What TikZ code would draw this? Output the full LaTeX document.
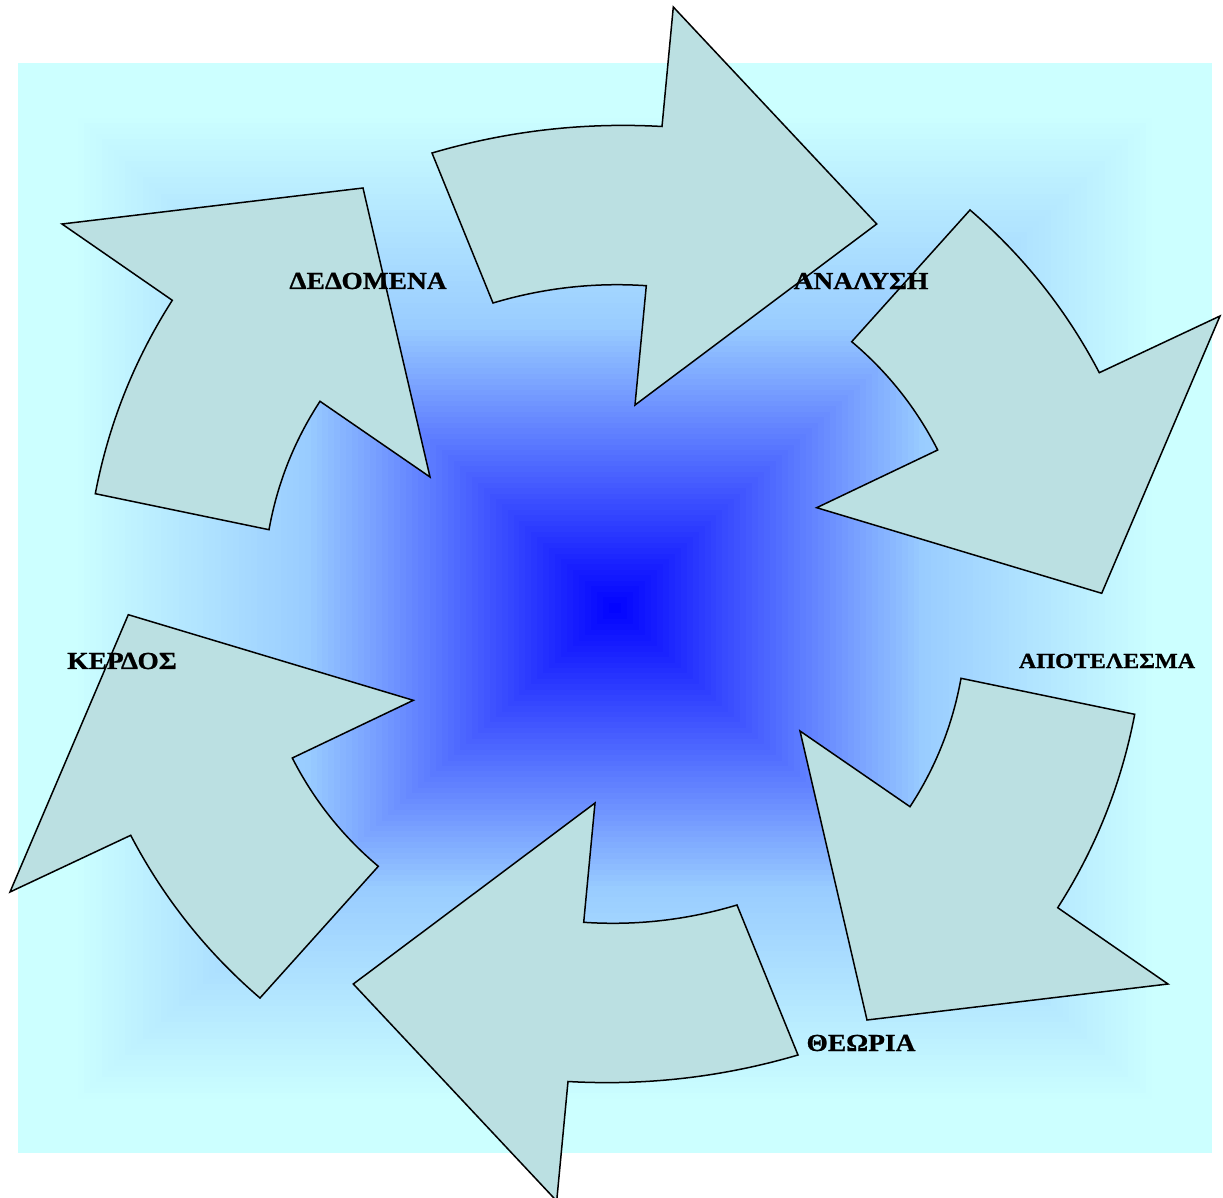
\documentclass[tikz,border=0pt]{standalone}
\usepackage{fontspec}
\setmainfont{Liberation Serif}
\newfontfamily\lblfont[FakeStretch=1.12, FakeBold=0.8, UprightFont=* Bold]{Liberation Serif}
\definecolor{bgA}{RGB}{0,0,255}
\definecolor{bgB}{RGB}{153,204,255}
\definecolor{bgC}{RGB}{204,255,255}
\definecolor{arrowfill}{RGB}{187,224,226}
\tikzset{
  cyc/.style={fill=arrowfill, draw=black, line width=1.5pt, line join=miter},
  lbl/.style={font=\lblfont\fontsize{24.5}{24.5}\selectfont, inner sep=0pt, text=black},
  lblsmall/.style={lbl, font=\lblfont\fontsize{21.5}{21.5}\selectfont}
}
\begin{document}
\begin{tikzpicture}[x=1pt,y=-1pt]
\useasboundingbox (0,0) rectangle (1223,1198);
% rectangular gradient background
\foreach \i in {100,99,...,1}{
  \pgfmathsetmacro\myt{\i/100}
  \ifnum\i>91 \def\mycol{bgC}\else
    \ifnum\i>52 \pgfmathsetmacro\myp{(\i-52)/39*100}\edef\mycol{bgC!\myp!bgB}\else
      \pgfmathsetmacro\myp{\i/52*100}\edef\mycol{bgB!\myp!bgA}\fi\fi
  \fill[fill=\mycol] ({615-597*\myt},{608-545*\myt}) rectangle ({615+597*\myt},{608+545*\myt});
}
% six circular arrows (three, and the same three turned half round)
\foreach \r in {0,180}{
\begin{scope}[rotate around={\r:(615,604)}]
\draw[cyc] (432,153) .. controls (507.2,130.9) and (583.8,122.1) .. (662,126.5)
  -- (673.3,7) -- (876.7,224) -- (635,405) -- (646.3,285.7)
  .. controls (594.2,282.2) and (543.1,288) .. (493,303) -- cycle;
\draw[cyc] (970,210) .. controls (1023.5,255.9) and (1066.6,310.2) .. (1099.3,372.7)
  -- (1220,316) -- (1101.7,593.3) -- (816.7,507.7) -- (937.7,450)
  .. controls (916.3,408.1) and (887.7,372) .. (851.7,341.7) -- cycle;
\draw[cyc] (1134.7,714.3) .. controls (1121.4,783.7) and (1095.8,848.2) .. (1057.7,907.7)
  -- (1168,984) -- (867,1020) -- (800,731) -- (910,806.7)
  .. controls (935.7,767.4) and (952.7,724.6) .. (961,678.3) -- cycle;
\end{scope}}
% labels
\node[lbl] (dedomena) at (368,281) {ΔΕΔΟΜΕΝΑ};
\node[lbl] (analysi) at (861,281) {ΑΝΑΛΥΣΗ};
\node[lblsmall] (apotelesma) at (1107,661) {ΑΠΟΤΕΛΕΣΜΑ};
\node[lbl] (kerdos) at (122,661) {ΚΕΡΔΟΣ};
\node[lbl] (theoria) at (861,1043) {ΘΕΩΡΙΑ};
\end{tikzpicture}
\end{document}
